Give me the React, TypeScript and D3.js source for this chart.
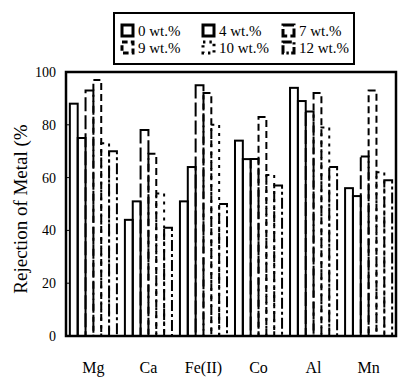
import React, { useEffect, useRef } from 'react';
import * as d3 from 'd3';

const metals = ['Mg', 'Ca', 'Fe(II)', 'Co', 'Al', 'Mn'];
const seriesLabels = ['0 wt.%', '4 wt.%', '7 wt.%', '9 wt.%', '10 wt.%', '12 wt.%'];
const wt0 = [88, 44, 51, 74, 94, 56];
const wt4 = [75, 51, 64, 67, 89, 53];
const wt7 = [93, 78, 95, 67, 85, 68];
const wt9 = [97, 69, 92, 83, 92, 93];
const wt10 = [73, 54, 80, 61, 79, 62];
const wt12 = [70, 41, 50, 57, 64, 59];
const yTicks = [0, 20, 40, 60, 80, 100];

const series = [wt0, wt4, wt7, wt9, wt10, wt12];
const dashes = ['none', 'none', '14,4', '7,4', '3,5', '11,3,3,3'];

export default function App() {
  const svgRef = useRef<SVGSVGElement>(null);

  useEffect(() => {
    if (!svgRef.current) return;
    const width = 398;
    const height = 377;
    const margin = { top: 72, right: 2, bottom: 41, left: 66 };

    const svg = d3.select(svgRef.current);
    svg.selectAll('*').remove();
    svg.attr('width', width).attr('height', height);

    const x = d3.scaleBand<string>()
      .domain(metals)
      .range([margin.left, width - margin.right])
      .paddingInner(0.145)
      .paddingOuter(0.07);

    const xs = d3.scaleBand<number>()
      .domain(d3.range(series.length))
      .range([0, x.bandwidth()]);

    const y = d3.scaleLinear()
      .domain([0, 100])
      .range([height - margin.bottom, margin.top]);

    const font = "'Liberation Serif', 'DejaVu Serif', 'Times New Roman', serif";

    // bars
    series.forEach((vals, si) => {
      svg.append('g')
        .selectAll('rect')
        .data(vals)
        .enter()
        .append('rect')
        .attr('x', (d, i) => x(metals[i])! + xs(si)!)
        .attr('y', d => y(d))
        .attr('width', xs.bandwidth())
        .attr('height', d => y(0) - y(d))
        .attr('fill', 'none')
        .attr('stroke', '#000')
        .attr('stroke-width', 2)
        .attr('stroke-dasharray', dashes[si]);
    });

    // frame
    svg.append('rect')
      .attr('x', margin.left)
      .attr('y', margin.top)
      .attr('width', width - margin.left - margin.right)
      .attr('height', y(0) - margin.top)
      .attr('fill', 'none')
      .attr('stroke', '#000')
      .attr('stroke-width', 2.5);

    // y ticks
    svg.append('g')
      .selectAll('text')
      .data(yTicks)
      .enter()
      .append('text')
      .attr('x', 56)
      .attr('y', d => y(d))
      .attr('dy', '0.35em')
      .attr('text-anchor', 'end')
      .attr('font-family', font)
      .attr('font-size', 14)
      .text(d => d);

    svg.append('g')
      .selectAll('line')
      .data(yTicks)
      .enter()
      .append('line')
      .attr('x1', margin.left)
      .attr('x2', margin.left + 3)
      .attr('y1', d => y(d))
      .attr('y2', d => y(d))
      .attr('stroke', '#000')
      .attr('stroke-width', 1);

    // y title
    svg.append('text')
      .attr('transform', `translate(27,${(margin.top + y(0)) / 2 + 5}) rotate(-90)`)
      .attr('text-anchor', 'middle')
      .attr('font-family', font)
      .attr('font-size', 19)
      .text('Rejection of Metal (%');

    // x labels
    svg.append('g')
      .selectAll('text')
      .data(metals)
      .enter()
      .append('text')
      .attr('x', d => x(d)! + x.bandwidth() / 2)
      .attr('y', 373)
      .attr('text-anchor', 'middle')
      .attr('font-family', font)
      .attr('font-size', 16)
      .text(d => d);

    // legend
    const lg = svg.append('g');
    lg.append('rect')
      .attr('x', 114)
      .attr('y', 13)
      .attr('width', 240)
      .attr('height', 51)
      .attr('fill', '#fff')
      .attr('stroke', '#000')
      .attr('stroke-width', 2);

    const colX = [122, 203, 283];
    const rowY = [31, 48];
    seriesLabels.forEach((lab, i) => {
      const cx = colX[i % 3];
      const cy = rowY[Math.floor(i / 3)];
      lg.append('rect')
        .attr('x', cx)
        .attr('y', cy - 6)
        .attr('width', 11)
        .attr('height', 11)
        .attr('fill', 'none')
        .attr('stroke', '#000')
        .attr('stroke-width', 3)
        .attr('stroke-dasharray', dashes[i] === 'none' ? 'none' : dashes[i].split(',').map(v => Math.max(2, +v * 0.8)).join(','));
      lg.append('text')
        .attr('x', cx + 16)
        .attr('y', cy)
        .attr('dy', '0.35em')
        .attr('font-family', font)
        .attr('font-size', 15)
        .text(lab);
    });
  }, []);

  return (
    <div style={{ position: 'absolute', left: 0, top: 0 }}>
      <svg ref={svgRef} style={{ display: 'block', background: '#fff' }} />
    </div>
  );
}
